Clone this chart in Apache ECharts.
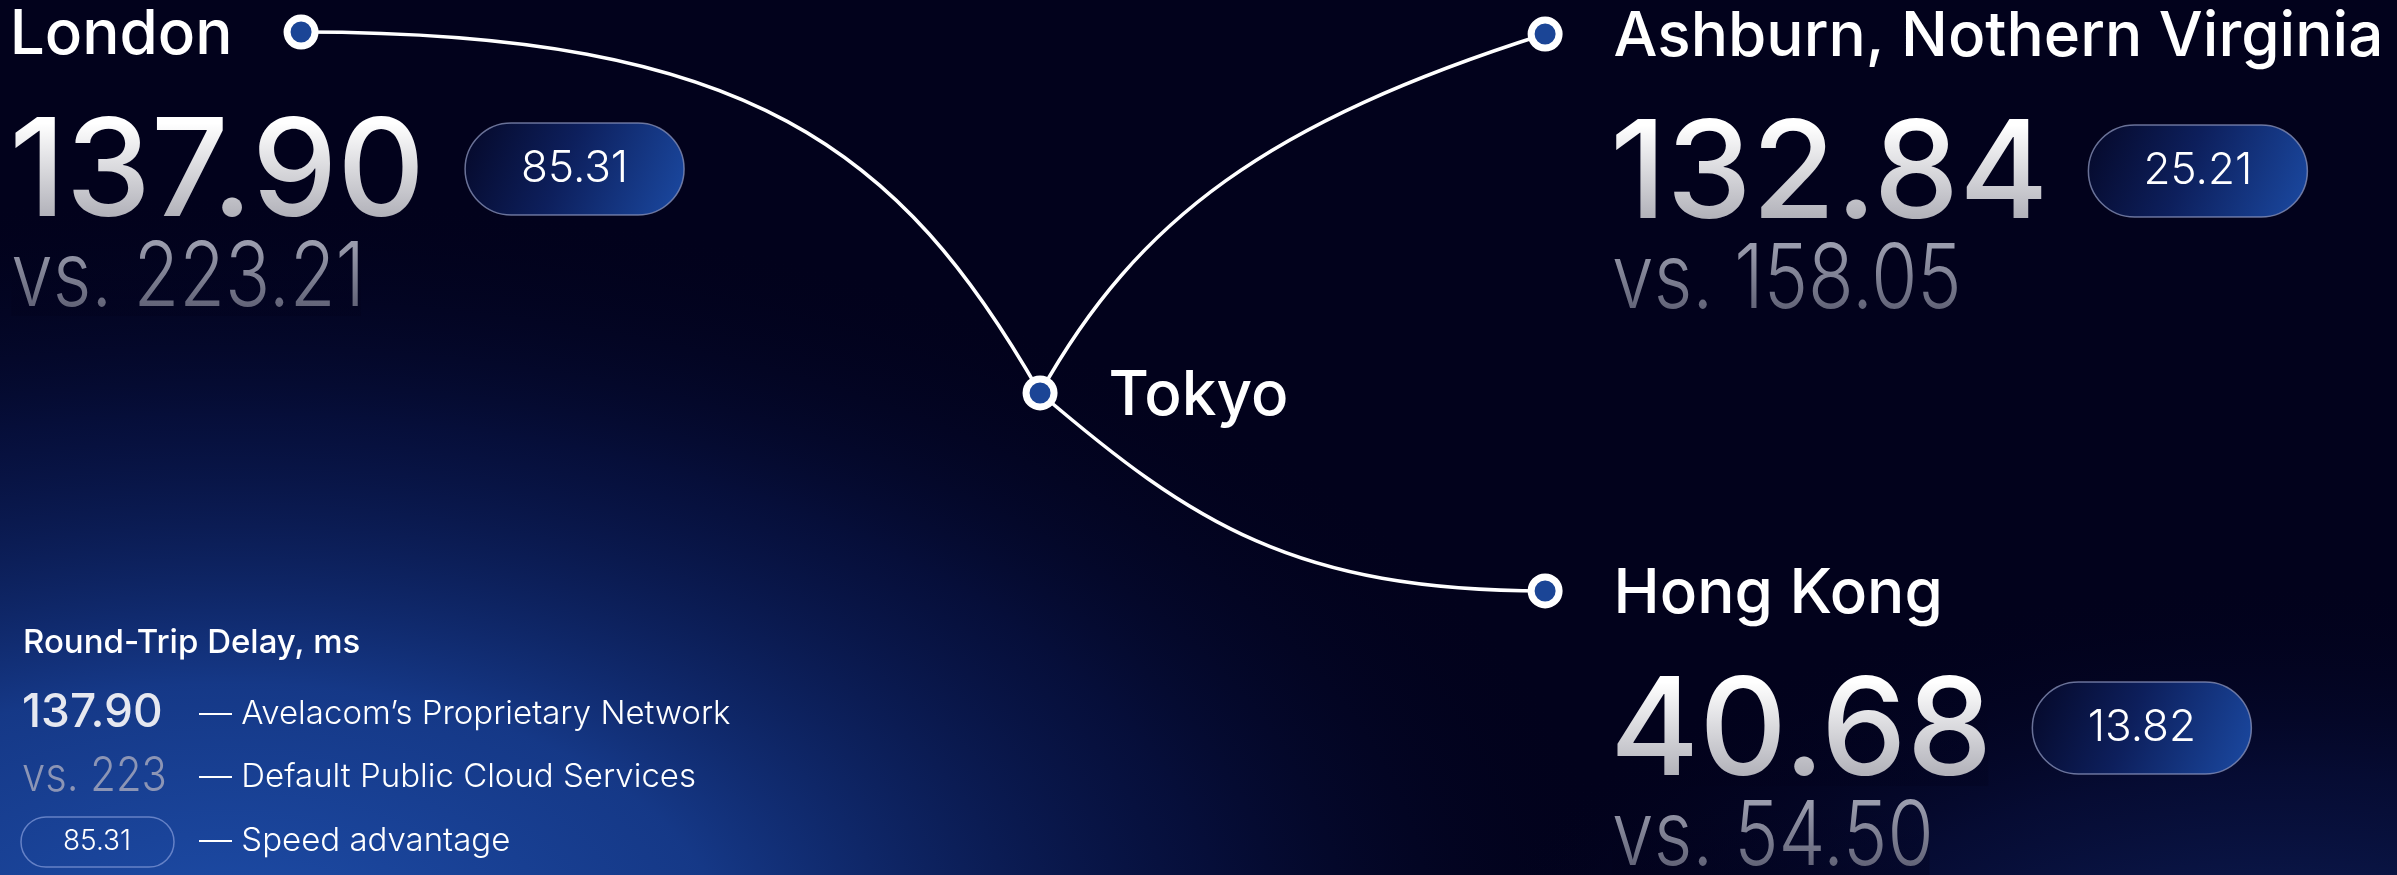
<!DOCTYPE html>
<html>
<head>
<meta charset="utf-8">
<script src="https://cdn.jsdelivr.net/npm/echarts@6/dist/echarts.min.js"></script>
<style>
  html, body { margin: 0; padding: 0; background: #02021c; }
  #chart { width: 2397px; height: 875px; }
</style>
</head>
<body>
<div id="chart"></div>
<script>
// ---------------- data ----------------
const cities = ['London', 'Ashburn, Nothern Virginia', 'Tokyo', 'Hong Kong'];
const proprietaryMs = [137.90, 132.84, null, 40.68];   // Avelacom's Proprietary Network
const publicCloudMs = [223.21, 158.05, null, 54.50];   // Default Public Cloud Services
const advantageMs   = [85.31, 25.21, null, 13.82];     // Speed advantage
// schematic node positions (0..100 on each hidden axis)
const schematicX = [12.56, 64.46, 43.39, 64.46];
const schematicY = [3.66, 3.89, 44.91, 67.54];
const routes = [[0, 2], [2, 1], [2, 3]];
const legendTitle = 'Round-Trip Delay, ms';
const legendItems = ['— Avelacom’s Proprietary Network', '— Default Public Cloud Services', '— Speed advantage'];

// ---------------- styling ----------------
const BG = '#02021c';
const NODE_BLUE = '#1b4596';
const LABEL_FONT = '500 62px Inter';
const NUM_FONT = '500 136px Inter';
const VS_FONT = '300 90px Inter';
const VS_SCALE = 0.83;
const PILL_FONT = '300 44px Inter';
const labelSide = ['left', 'right', 'right', 'right'];
// route curve tangents: start dir, start handle, end dir (pointing back), end handle
const routeTangents = [
  [1, 0, 450, -0.497, -0.868, 280],
  [0.488, -0.874, 200, -0.953, 0.303, 290],
  [0.76, 0.65, 200, -1, 0, 250]
];

const measureCtx = document.createElement('canvas').getContext('2d');
function measure(text, font) { measureCtx.font = font; return measureCtx.measureText(text).width; }

const chart = echarts.init(document.getElementById('chart'));

function renderRoute(params, api) {
  const k = api.value(4);
  const a = api.coord([api.value(0), api.value(1)]);
  const b = api.coord([api.value(2), api.value(3)]);
  const t = routeTangents[k];
  return {
    type: 'bezierCurve',
    shape: {
      x1: a[0], y1: a[1], x2: b[0], y2: b[1],
      cpx1: a[0] + t[0] * t[2], cpy1: a[1] + t[1] * t[2],
      cpx2: b[0] + t[3] * t[5], cpy2: b[1] + t[4] * t[5]
    },
    style: { stroke: '#ffffff', lineWidth: 3.5, fill: null }
  };
}

function fadeOverlay(x, y, w, h, alpha) {
  return {
    type: 'rect', silent: true,
    shape: { x: x, y: y, width: w, height: h },
    style: { fill: new echarts.graphic.LinearGradient(0, 0, 0, 1, [
      { offset: 0, color: 'rgba(2,2,28,0)' },
      { offset: 1, color: 'rgba(2,2,28,' + alpha + ')' }
    ]) }
  };
}

function renderBlock(params, api) {
  const i = api.value(2);
  const p = api.coord([api.value(0), api.value(1)]);
  const labelW = measure(cities[i], LABEL_FONT);
  const left = labelSide[i] === 'left' ? p[0] - 65 - labelW : p[0] + 69;
  const numStr = proprietaryMs[i].toFixed(2);
  const vsStr = 'vs. ' + publicCloudMs[i].toFixed(2);
  const numW = measure(numStr, NUM_FONT);
  const vsW = measure(vsStr, VS_FONT) * VS_SCALE;
  const pillX = left + numW + 36;
  const pillY = p[1] + 91;
  const pillW = 219, pillH = 92;
  return {
    type: 'group',
    children: [
      { type: 'text', x: left - 4, y: p[1] + 143,
        style: { text: numStr, font: NUM_FONT, fill: '#ffffff', verticalAlign: 'middle', align: 'left' } },
      fadeOverlay(left - 2, p[1] + 91, numW - 6, 104, 0.34),
      { type: 'text', x: left - 2, y: p[1] + 247, scaleX: VS_SCALE,
        style: { text: vsStr, font: VS_FONT, fill: '#9a9cad', verticalAlign: 'middle', align: 'left' } },
      fadeOverlay(left - 2, p[1] + 212, vsW - 4, 72, 0.42),
      { type: 'rect', x: pillX, y: pillY,
        shape: { x: 0, y: 0, width: pillW, height: pillH, r: pillH / 2 },
        style: {
          fill: new echarts.graphic.LinearGradient(0, 0, 1, 1, [
            { offset: 0, color: '#050828' },
            { offset: 0.45, color: '#0d1f5c' },
            { offset: 1, color: '#1b4aa3' }
          ]),
          stroke: 'rgba(140,150,190,0.75)', lineWidth: 1.5
        } },
      { type: 'text', x: pillX + pillW / 2, y: pillY + pillH / 2,
        style: { text: advantageMs[i].toFixed(2), font: PILL_FONT, fill: '#ffffff', align: 'center', verticalAlign: 'middle' } }
    ]
  };
}

const lon = 0;
const legendX = 23;
const option = {
  backgroundColor: BG,
  animation: false,
  grid: { left: 0, right: 0, top: 0, bottom: 0 },
  xAxis: { type: 'value', min: 0, max: 100, show: false },
  yAxis: { type: 'value', min: 0, max: 100, inverse: true, show: false },
  graphic: [
    { type: 'rect', silent: true, z: -10, x: 230, y: 950, scaleX: 1.85,
      shape: { x: -760, y: -760, width: 1520, height: 1520 },
      style: { fill: new echarts.graphic.RadialGradient(0.5, 0.5, 0.5, [
        { offset: 0, color: 'rgba(30,78,170,1)' },
        { offset: 0.35, color: 'rgba(24,64,150,0.88)' },
        { offset: 0.7, color: 'rgba(12,32,100,0.42)' },
        { offset: 1, color: 'rgba(2,2,28,0)' }
      ]) } },
    { type: 'rect', silent: true, z: -10, x: 2280, y: 1060, scaleX: 1.8,
      shape: { x: -480, y: -480, width: 960, height: 960 },
      style: { fill: new echarts.graphic.RadialGradient(0.5, 0.5, 0.5, [
        { offset: 0, color: 'rgba(30,70,160,0.6)' },
        { offset: 0.6, color: 'rgba(20,45,130,0.22)' },
        { offset: 1, color: 'rgba(2,2,28,0)' }
      ]) } },
    { type: 'text', x: legendX, y: 643,
      style: { text: legendTitle, font: '500 33px Inter', fill: '#ffffff', verticalAlign: 'middle' } },
    { type: 'text', x: legendX - 1, y: 713,
      style: { text: proprietaryMs[lon].toFixed(2), font: '500 46px Inter', fill: '#e6e8f0', verticalAlign: 'middle' } },
    { type: 'text', x: 199, y: 714,
      style: { text: legendItems[0], font: '300 33px Inter', fill: '#ffffff', verticalAlign: 'middle' } },
    { type: 'text', x: legendX - 1, y: 777, scaleX: 0.87,
      style: { text: 'vs. ' + Math.round(publicCloudMs[lon]), font: '300 48px Inter', fill: '#8c95b5', verticalAlign: 'middle' } },
    { type: 'text', x: 199, y: 777,
      style: { text: legendItems[1], font: '300 33px Inter', fill: '#ffffff', verticalAlign: 'middle' } },
    { type: 'rect', x: 21, y: 817,
      shape: { x: 0, y: 0, width: 153, height: 50, r: 25 },
      style: { fill: 'rgba(0,0,0,0)', stroke: 'rgba(120,145,210,0.8)', lineWidth: 1.5 } },
    { type: 'text', x: 97, y: 842,
      style: { text: advantageMs[lon].toFixed(2), font: '300 28px Inter', fill: '#ffffff', align: 'center', verticalAlign: 'middle' } },
    { type: 'text', x: 199, y: 841,
      style: { text: legendItems[2], font: '300 33px Inter', fill: '#ffffff', verticalAlign: 'middle' } }
  ],
  series: [
    {
      type: 'custom', name: 'routes', coordinateSystem: 'cartesian2d', z: 2, silent: true,
      encode: { x: [0, 2], y: [1, 3] },
      data: routes.map(([a, b], k) => [schematicX[a], schematicY[a], schematicX[b], schematicY[b], k]),
      renderItem: renderRoute
    },
    {
      type: 'scatter', name: 'nodes', z: 4, silent: true,
      symbol: 'circle', symbolSize: 28,
      itemStyle: { color: NODE_BLUE, borderColor: '#ffffff', borderWidth: 7, opacity: 1 },
      label: { show: true, formatter: '{b}', fontFamily: 'Inter', fontWeight: 500, fontSize: 62, color: '#ffffff' },
      data: cities.map((c, i) => ({
        name: c, value: [schematicX[i], schematicY[i]],
        label: { position: labelSide[i], distance: 51, offset: [0, 3] }
      }))
    },
    {
      type: 'custom', name: 'values', coordinateSystem: 'cartesian2d', z: 3, silent: true,
      data: cities.map((c, i) => [schematicX[i], schematicY[i], i]).filter(d => proprietaryMs[d[2]] != null),
      renderItem: renderBlock
    }
  ]
};
chart.setOption(option);
</script>
</body>
</html>
